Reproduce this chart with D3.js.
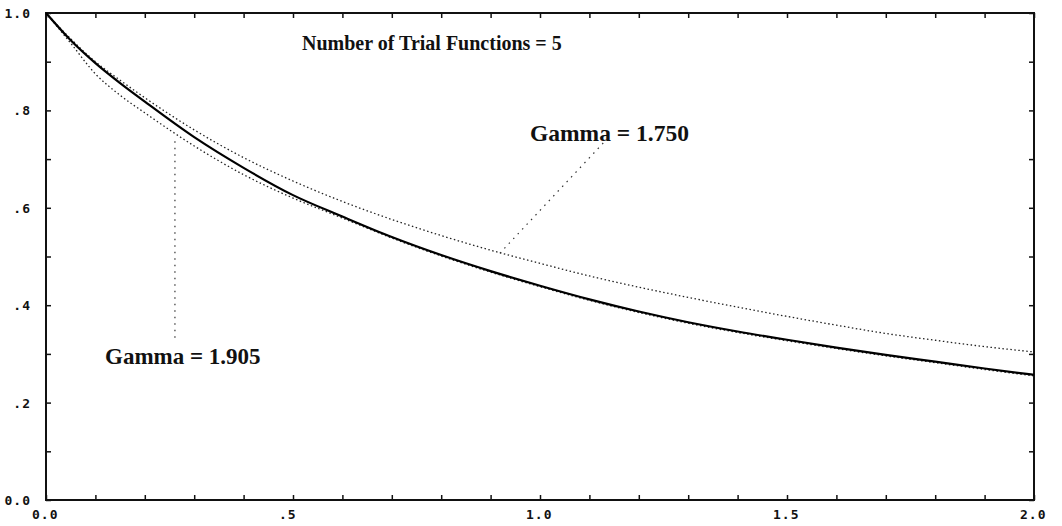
<!DOCTYPE html>
<html>
<head>
<meta charset="utf-8">
<script src="https://cdn.jsdelivr.net/npm/d3@7"></script>
<style>
  body { margin: 0; background: #fff; }
  .tick-label { font-family: "DejaVu Sans Mono", monospace; font-size: 13px; font-weight: bold; fill: #111; letter-spacing: 1px; }
  .note { font-family: "Liberation Serif", "Times New Roman", serif; font-weight: bold; fill: #111; }
</style>
</head>
<body>
<svg id="chart"></svg>
<script>
// values
var xs       = [0, 0.05, 0.1, 0.15, 0.2, 0.3, 0.4, 0.5, 0.6, 0.7, 0.8, 0.9, 1.0, 1.1, 1.2, 1.3, 1.4, 1.5, 1.6, 1.7, 1.8, 1.9, 2.0];
var exact    = [1.0, 0.944, 0.897, 0.856, 0.818, 0.745, 0.682, 0.626, 0.582, 0.540, 0.503, 0.470, 0.440, 0.412, 0.387, 0.365, 0.346, 0.329, 0.313, 0.298, 0.284, 0.270, 0.257];
var gamma175 = [1.0, 0.947, 0.900, 0.862, 0.826, 0.760, 0.703, 0.655, 0.613, 0.576, 0.543, 0.513, 0.486, 0.460, 0.437, 0.416, 0.396, 0.377, 0.359, 0.342, 0.328, 0.315, 0.304];
var gamma1905 = [1.0, 0.938, 0.875, 0.831, 0.795, 0.727, 0.668, 0.620, 0.579, 0.538, 0.501, 0.468, 0.438, 0.410, 0.385, 0.363, 0.344, 0.327, 0.311, 0.296, 0.282, 0.268, 0.255];
var xTicks = [0, 0.5, 1.0, 1.5, 2.0];
var xTickLabels = ["0.0", ".5", "1.0", "1.5", "2.0"];
var yTicks = [0, 0.2, 0.4, 0.6, 0.8, 1.0];
var yTickLabels = ["0.0", ".2", ".4", ".6", ".8", "1.0"];
var title = "Number of Trial Functions = 5";
// pointer labels: text, pointer line start and end in data units
var notes = [
  {text: "Gamma = 1.750", from: [1.128, 0.733], to: [0.919, 0.507]},
  {text: "Gamma = 1.905", from: [0.261, 0.333], to: [0.261, 0.745]}
];

var W = 1062, H = 526;
var m = {left: 46, right: 28, top: 13, bottom: 26};

var svg = d3.select("#chart").attr("width", W).attr("height", H);

var x = d3.scaleLinear().domain([0, 2]).range([m.left, W - m.right]);
var y = d3.scaleLinear().domain([0, 1]).range([H - m.bottom, m.top]);

var minor = d3.range(0, 21).map(function(i){ return i / 10; });
var minorY = d3.range(0, 11).map(function(i){ return i / 10; });

// inward ticks on all four sides
svg.append("g").attr("transform", "translate(0," + y(0) + ")")
  .call(d3.axisTop(x).tickValues(minor).tickSize(5).tickFormat(""));
svg.append("g").attr("transform", "translate(0," + y(1) + ")")
  .call(d3.axisBottom(x).tickValues(minor).tickSize(5).tickFormat(""));
svg.append("g").attr("transform", "translate(" + x(0) + ",0)")
  .call(d3.axisRight(y).tickValues(minorY).tickSize(5).tickFormat(""));
svg.append("g").attr("transform", "translate(" + x(2) + ",0)")
  .call(d3.axisLeft(y).tickValues(minorY).tickSize(5).tickFormat(""));
svg.selectAll(".domain").remove();
svg.selectAll(".tick line").attr("stroke", "#111").attr("stroke-width", 1.5);

svg.append("rect")
  .attr("x", x(0)).attr("y", y(1))
  .attr("width", x(2) - x(0)).attr("height", y(0) - y(1))
  .attr("fill", "none").attr("stroke", "#111").attr("stroke-width", 2);

svg.selectAll(".xl").data(xTicks).enter().append("text")
  .attr("class", "tick-label")
  .attr("x", function(d){ return x(d) - 14; })
  .attr("y", y(0) + 19)
  .text(function(d, i){ return xTickLabels[i]; });

svg.selectAll(".yl").data(yTicks).enter().append("text")
  .attr("class", "tick-label")
  .attr("x", x(0) - 15)
  .attr("y", function(d){ return y(d) + 5; })
  .attr("text-anchor", "end")
  .text(function(d, i){ return yTickLabels[i]; });

var line = d3.line().curve(d3.curveMonotoneX)
  .x(function(d){ return x(d[0]); })
  .y(function(d){ return y(d[1]); });

function pts(vals){ return xs.map(function(v, i){ return [v, vals[i]]; }); }

svg.append("path").datum(pts(gamma175)).attr("d", line)
  .attr("fill", "none").attr("stroke", "#222").attr("stroke-width", 1.3)
  .attr("stroke-dasharray", "1.5,2.5");
svg.append("path").datum(pts(gamma1905)).attr("d", line)
  .attr("fill", "none").attr("stroke", "#222").attr("stroke-width", 1.3)
  .attr("stroke-dasharray", "1.5,2.5");
svg.append("path").datum(pts(exact)).attr("d", line)
  .attr("fill", "none").attr("stroke", "#000").attr("stroke-width", 2.2);

svg.selectAll(".ptr").data(notes).enter().append("line")
  .attr("x1", function(d){ return x(d.from[0]); })
  .attr("y1", function(d){ return y(d.from[1]); })
  .attr("x2", function(d){ return x(d.to[0]); })
  .attr("y2", function(d){ return y(d.to[1]); })
  .attr("stroke", "#333").attr("stroke-width", 1.2)
  .attr("stroke-dasharray", "1.5,5");

svg.append("text").attr("class", "note")
  .attr("x", 302).attr("y", 50).attr("font-size", 20)
  .text(title);
svg.append("text").attr("class", "note")
  .attr("x", 530).attr("y", 141).attr("font-size", 23.5)
  .text(notes[0].text);
svg.append("text").attr("class", "note")
  .attr("x", 105).attr("y", 364).attr("font-size", 23)
  .text(notes[1].text);
</script>
</body>
</html>
